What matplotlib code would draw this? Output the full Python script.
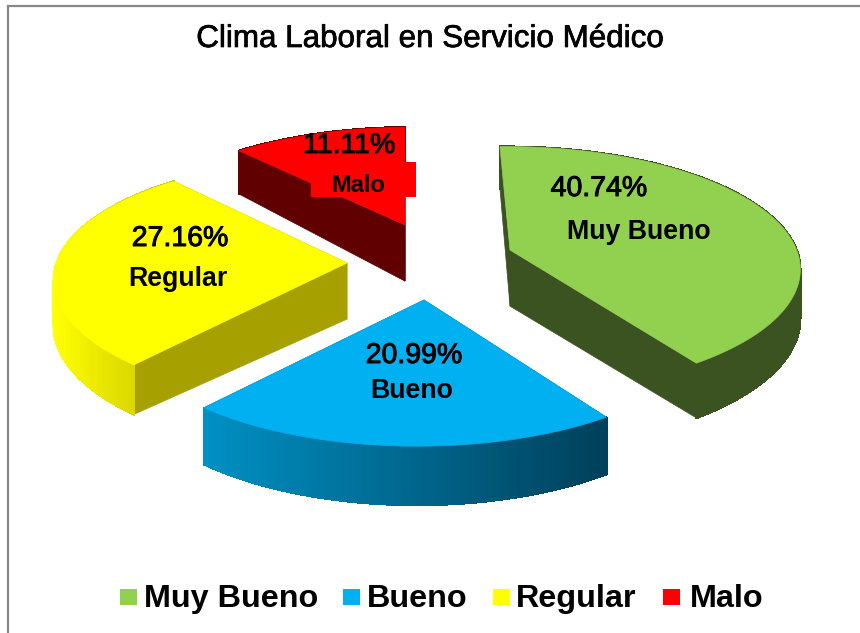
import numpy as np
import matplotlib
matplotlib.use("Agg")
import matplotlib.pyplot as plt
from matplotlib.patches import Polygon, Rectangle
from matplotlib.collections import PolyCollection
import matplotlib.colors as mc
import matplotlib.patheffects as pe

categories = ["Muy Bueno", "Bueno", "Regular", "Malo"]
percent = [40.74, 20.99, 27.16, 11.11]
title = "Clima Laboral en Servicio Médico"

# styling / layout
top_colors = ["#92D050", "#00B0F0", "#FFFF00", "#FF0000"]
face_colors = ["#3B5320", "#00506E", "#A6A000", "#600000"]
rim_ramps = [("#3B5320", "#3B5320"), ("#0090C4", "#00405A"), ("#FFFF00", "#C8C400"), ("#600000", "#600000")]
apex = [(510, 250), (424, 300), (347, 263), (405, 225)]
arc_shift = [(-3, 1), (-7, 5), (0, -1), (7, 6.5)]
rim_depth = [48, 50, 44, 48]
RX, RY, K, DEPTH, START = 290.0, 120.0, 0.15, 52.0, -1.6

fig = plt.figure(figsize=(8.6, 6.33), dpi=100)
ax = fig.add_axes([0, 0, 1, 1])
ax.set_xlim(0, 860)
ax.set_ylim(633, 0)
ax.axis("off")
FONT = "Liberation Sans"


def project(phi_deg, a, z=0.0):
    p = np.radians(phi_deg)
    X, Y = np.sin(p), np.cos(p)
    s = 1 / (1 + K * Y)
    return np.column_stack([a[0] + RX * X * s, a[1] - RY * Y * s + z * s])


def lerp(c1, c2, t):
    a, b = np.array(mc.to_rgb(c1)), np.array(mc.to_rgb(c2))
    return a + (b - a) * t


# frame
ax.plot([8, 8, 860], [633, 6, 6], color="#888888", lw=1.6, solid_joinstyle="miter")

angles = START + np.concatenate([[0], np.cumsum(percent)]) * 3.6
order = [3, 0, 2, 1]
for i in order:
    a0, a1 = angles[i], angles[i + 1]
    a = apex[i]
    c = (a[0] + arc_shift[i][0], a[1] + arc_shift[i][1])
    phis = np.linspace(a0, a1, 120)
    top = project(phis, c)
    bot = project(phis, c, rim_depth[i])
    ap_top = np.array(a, float)
    ap_bot = ap_top + [0, DEPTH * 1.08]
    # radial side faces
    for end_t, end_b in ((top[0], bot[0]), (top[-1], bot[-1])):
        ax.add_patch(Polygon([ap_top, end_t, end_b, ap_bot], closed=True,
                             fc=face_colors[i], ec=face_colors[i], lw=0.5))
    # outer rim as shaded strips
    quads, cols = [], []
    xmin, xmax = top[:, 0].min(), top[:, 0].max()
    c1, c2 = rim_ramps[i]
    for j in range(len(phis) - 1):
        quads.append([top[j], top[j + 1], bot[j + 1], bot[j]])
        cols.append(lerp(c1, c2, (top[j, 0] - xmin) / (xmax - xmin)))
    ax.add_collection(PolyCollection(quads, facecolors=cols, edgecolors=cols,
                                     linewidths=1.0, antialiaseds=False))
    ax.add_patch(Polygon(np.vstack([ap_top, top]), closed=True, fc=top_colors[i],
                         ec=top_colors[i], lw=0.5))

# red box behind the "Malo" label
ax.add_patch(Rectangle((311, 162), 105, 35, fc="#FF0000", ec="none", zorder=3))

pct_pos = [(599, 189), (414, 356), (180, 239), (349, 146)]
name_pos = [(639, 232), (412, 391), (178, 279), (358, 185)]
name_size = [19.3, 19.3, 19.3, 17]
stroke = [pe.withStroke(linewidth=0.7, foreground="black")]
for i in range(4):
    ax.text(*pct_pos[i], f"{percent[i]:.2f}%", fontname=FONT, fontsize=20.5, ha="center",
            va="center", color="black", zorder=4, path_effects=stroke)
    ax.text(*name_pos[i], categories[i], fontname=FONT, fontsize=name_size[i], ha="center",
            va="center", color="black", fontweight="bold", zorder=4)

ax.text(430.5, 39, title, fontname=FONT, fontsize=22.6, ha="center", va="center",
        color="black", path_effects=[pe.withStroke(linewidth=0.5, foreground="black")])

# legend
sw_x = [120, 343, 493, 663]
tx_x = [144, 367, 516, 690]
for i in range(4):
    ax.add_patch(Rectangle((sw_x[i], 589), 17, 16, fc=top_colors[i], ec="none"))
    ax.text(tx_x[i], 599, categories[i], fontname=FONT, fontsize=23.3, fontweight="bold",
            ha="left", va="center", color="black")

fig.savefig("out.png", dpi=100)
